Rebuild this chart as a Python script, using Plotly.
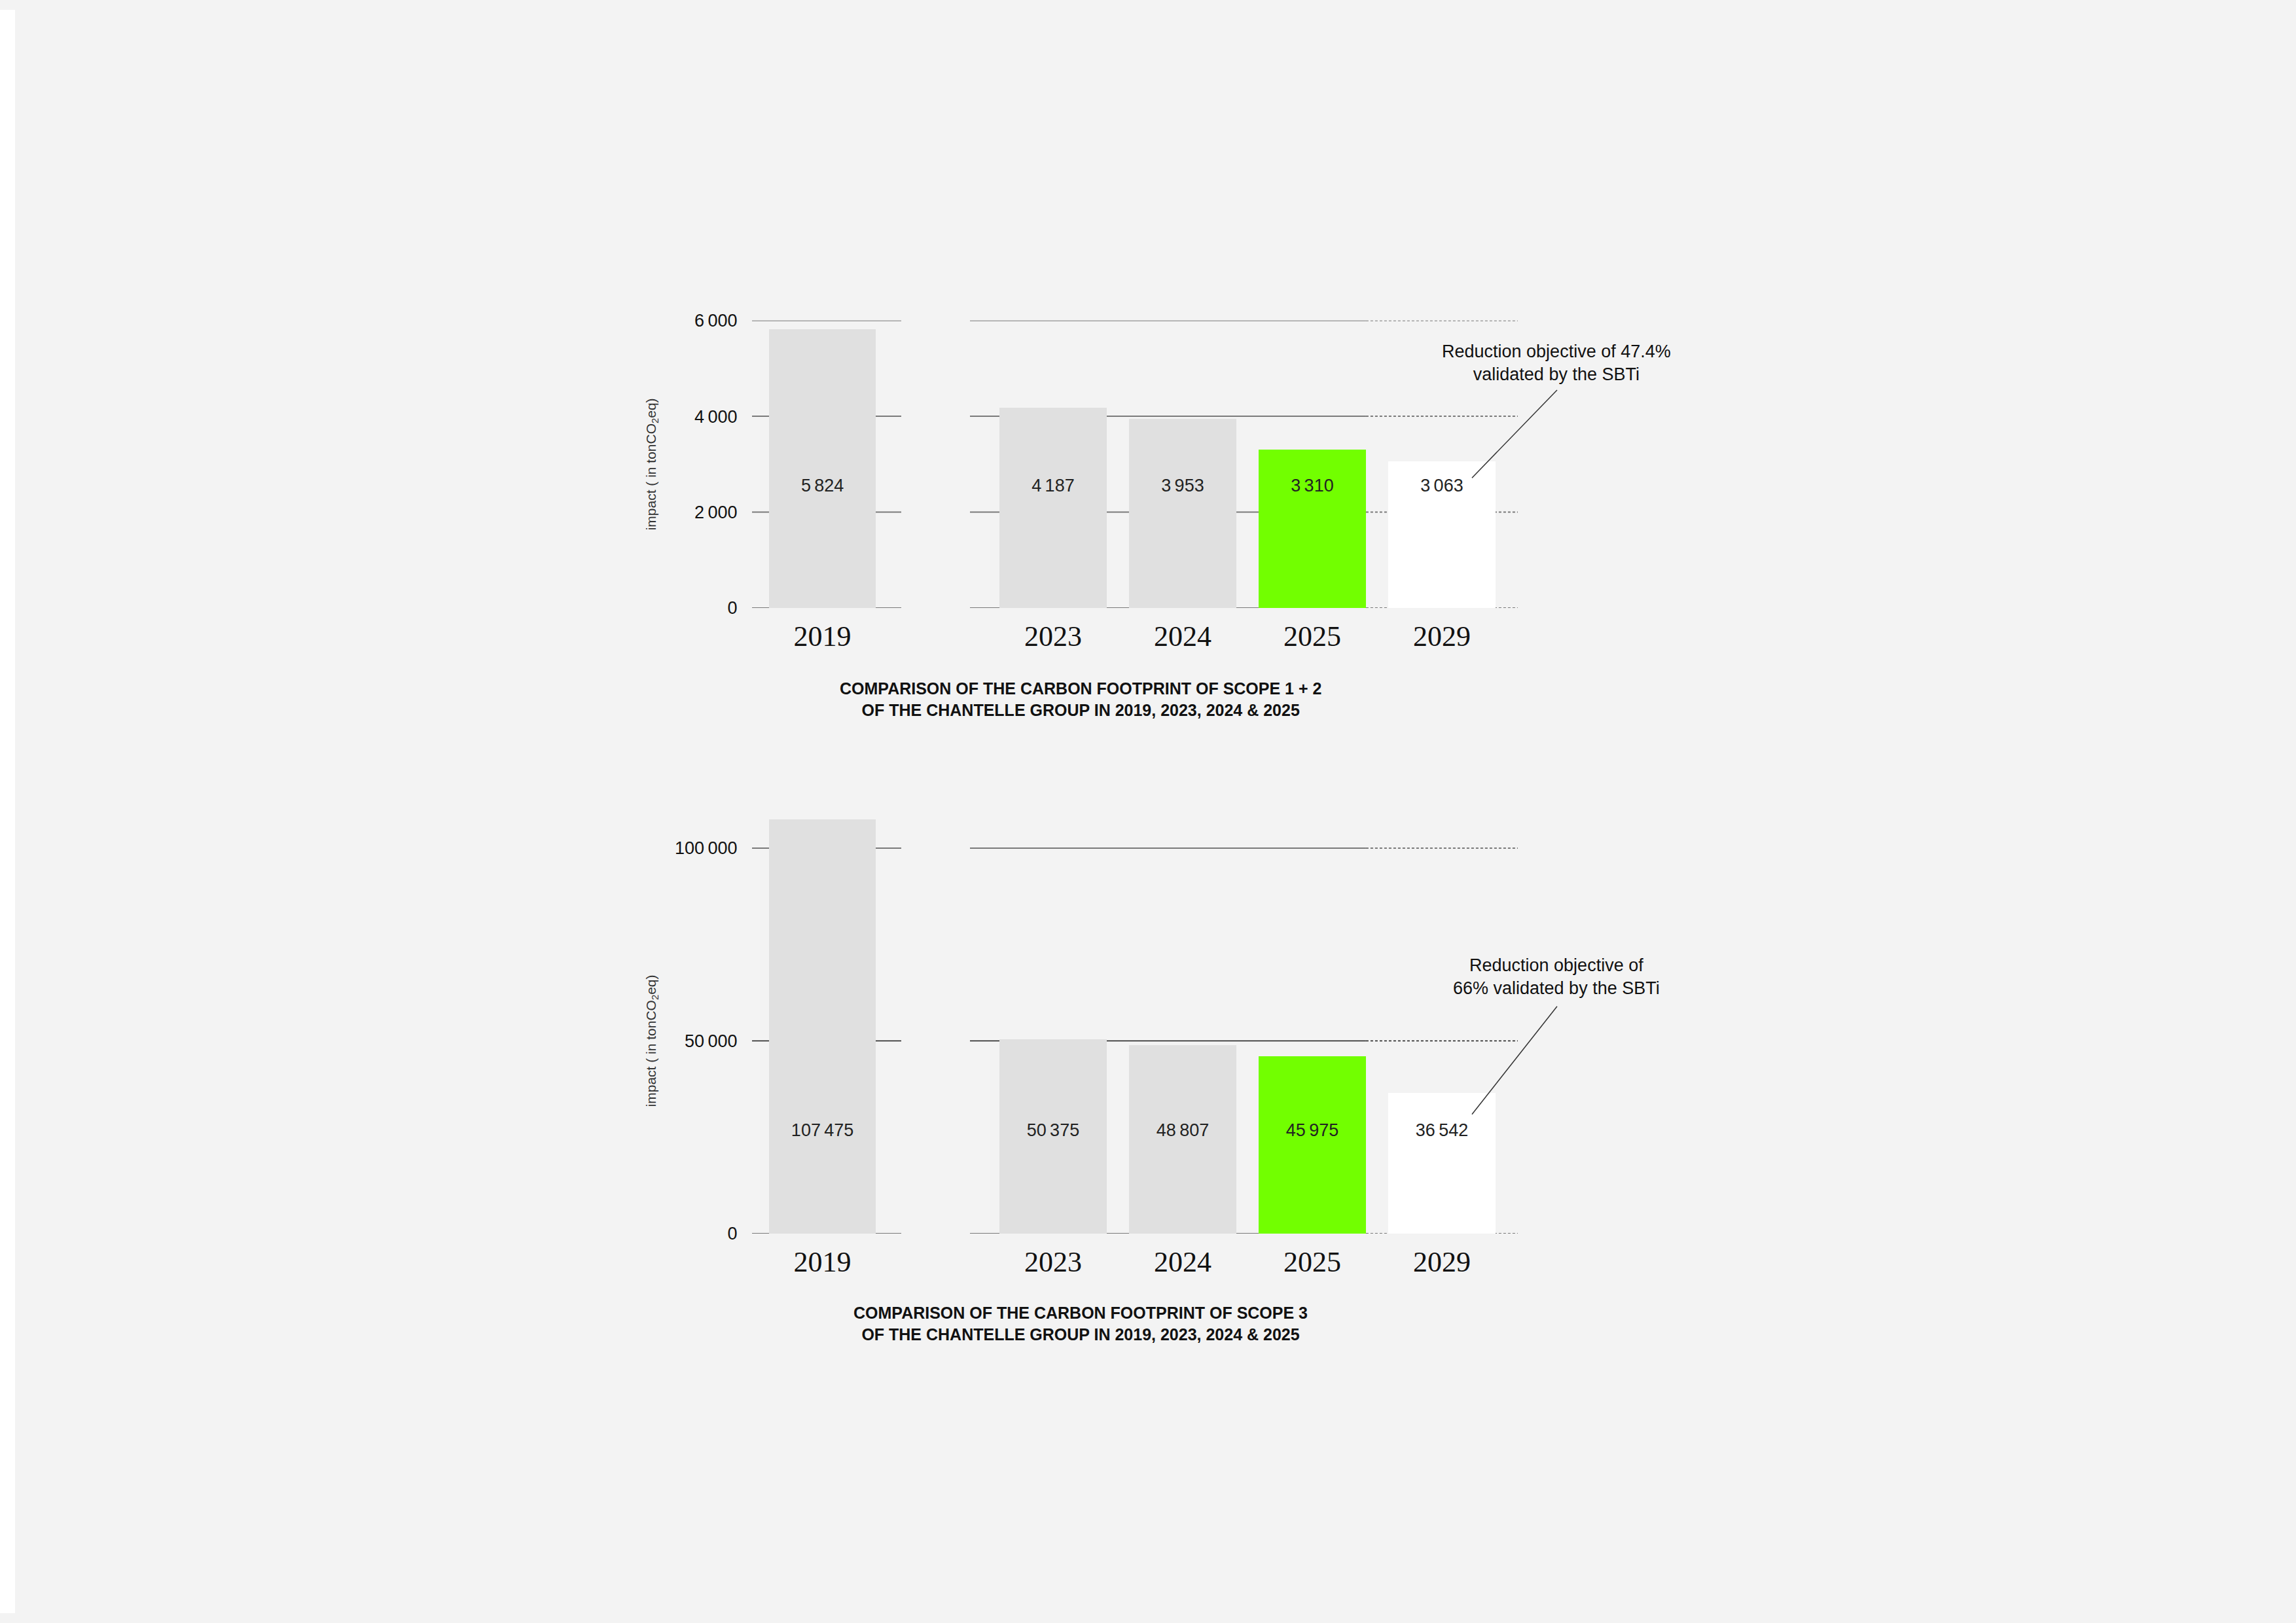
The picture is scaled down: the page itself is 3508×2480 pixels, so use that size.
import plotly.graph_objects as go

W, H = 3508, 2480

# ---- data -------------------------------------------------------------
years_base = ["2019"]
years_recent = ["2023", "2024", "2025", "2029"]

scope12_base = [5824]
scope12_recent = [4187, 3953, 3310, 3063]
scope3_base = [107475]
scope3_recent = [50375, 48807, 45975, 36542]

scope12_ticks = [0, 2000, 4000, 6000]
scope3_ticks = [0, 50000, 100000]

base_color = "#e0e0e0"
recent_colors = ["#e0e0e0", "#e0e0e0", "#72ff00", "#ffffff"]

scope12_title = ("COMPARISON OF THE CARBON FOOTPRINT OF SCOPE 1 + 2<br>"
                 "OF THE CHANTELLE GROUP IN 2019, 2023, 2024 & 2025")
scope3_title = ("COMPARISON OF THE CARBON FOOTPRINT OF SCOPE 3<br>"
                "OF THE CHANTELLE GROUP IN 2019, 2023, 2024 & 2025")
scope12_note = "Reduction objective of 47.4%<br>validated by the SBTi"
scope3_note = "Reduction objective of<br>66% validated by the SBTi"
y_title = "impact ( in tonCO<sub>2</sub>eq)"

SANS = "Liberation Sans, Arial, sans-serif"
SERIF = "Liberation Serif, Times New Roman, serif"
BG = "#f3f3f3"
GRID = "#7a7a7a"
DARK = "#1a1a1a"

# vertical calibration: the capture comes out slightly taller than the figure
Y_SCALE, Y_OFF = 1.0129, 14.5


def px_x(p):
    return p / W


def px_y(p):
    return 1 - (p * Y_SCALE - Y_OFF) / H


def fmt(v):
    return f"{v:,}".replace(",", "\u2009")


# ---- geometry -----------------------------------------------------------
left_dom = [px_x(1149), px_x(1377)]
right_dom = [px_x(1482), px_x(2319)]
left_range = [-0.472, 0.528]
right_range = [-0.641, 3.586]
left_width = 0.716
right_width = 0.828
split_idx = years_recent.index("2025")
split_frac = (split_idx + right_width / 2 - right_range[0]) / (right_range[1] - right_range[0])

charts = [
    dict(base=scope12_base, recent=scope12_recent, ticks=scope12_ticks,
         ydom=[px_y(927.7), px_y(488.7)], yrange=[0, 6000], label_y=2520,
         dark=None, title=scope12_title, title_y=1067,
         note=scope12_note, note_y=553, leader=((2249, 729), (2379, 595))),
    dict(base=scope3_base, recent=scope3_recent, ticks=scope3_ticks,
         ydom=[px_y(1883), px_y(1235.6)], yrange=[0, 110000], label_y=26500,
         dark=50000, title=scope3_title, title_y=2021,
         note=scope3_note, note_y=1491, leader=((2249, 1701), (2379, 1536))),
]

fig = go.Figure()
layout = {}
shapes = []
annotations = []

for i, c in enumerate(charts):
    for j, (cats, vals, colors, dom, rng, width) in enumerate([
        (years_base, c["base"], [base_color], left_dom, left_range, left_width),
        (years_recent, c["recent"], recent_colors, right_dom, right_range, right_width),
    ]):
        n = i * 2 + j + 1
        sx = "" if n == 1 else str(n)
        fig.add_trace(go.Bar(
            x=cats, y=vals, width=width, marker=dict(color=colors, line=dict(width=0)),
            xaxis="x" + sx, yaxis="y" + sx, showlegend=False, hoverinfo="x+y",
        ))
        fig.add_trace(go.Scatter(
            x=cats, y=[c["label_y"]] * len(cats), mode="text",
            text=[fmt(v) for v in vals],
            textfont=dict(family=SANS, size=27, color="#222222"),
            xaxis="x" + sx, yaxis="y" + sx, showlegend=False, hoverinfo="skip",
        ))
        layout["xaxis" + sx] = dict(
            domain=dom, anchor="y" + sx, type="category", range=rng,
            showgrid=False, zeroline=False, showline=False,
            ticks="outside", ticklen=4, tickcolor="rgba(0,0,0,0)",
            tickfont=dict(family=SERIF, size=44, color="#111111"),
            fixedrange=True,
        )
        layout["yaxis" + sx] = dict(
            domain=c["ydom"], anchor="x" + sx, range=c["yrange"],
            showgrid=False, zeroline=False, showline=False,
            tickvals=c["ticks"], ticktext=[fmt(t) for t in c["ticks"]],
            showticklabels=(j == 0),
            ticks="outside" if j == 0 else "", ticklen=16, tickcolor="rgba(0,0,0,0)",
            tickfont=dict(family=SANS, size=27, color="#111111"),
            fixedrange=True,
        )
        # gridlines (solid up to 2025, dotted for the 2029 target)
        for t in c["ticks"]:
            is_dark = t == c["dark"]
            col = DARK if is_dark else GRID
            lw = 1.5 if is_dark else 2
            segs = [(0, 1, "solid")] if j == 0 else [(0, split_frac, "solid"), (split_frac, 1, "4px,3px")]
            for x0, x1, dash in segs:
                shapes.append(dict(
                    type="line", xref=f"x{sx} domain", yref="y" + sx,
                    x0=x0, x1=x1, y0=t, y1=t, layer="below",
                    line=dict(color=col, width=lw, dash=dash),
                ))

    # y title centred on the tick span
    d0, d1 = c["ydom"]
    r0, r1 = c["yrange"]
    mid = (c["ticks"][0] + c["ticks"][-1]) / 2
    annotations.append(dict(
        text=y_title, textangle=-90, xref="paper", yref="paper",
        x=px_x(996), y=d0 + (mid - r0) / (r1 - r0) * (d1 - d0),
        xanchor="center", yanchor="middle", showarrow=False,
        font=dict(family=SANS, size=21, color="#333333"),
    ))
    annotations.append(dict(
        text="<b>" + c["title"].replace("<br>", "</b><br><b>") + "</b>",
        xref="paper", yref="paper", x=px_x(1651), y=px_y(c["title_y"]),
        xanchor="center", yanchor="middle", showarrow=False,
        font=dict(family=SANS, size=25, color="#111111"),
    ))
    annotations.append(dict(
        text=c["note"], xref="paper", yref="paper", x=px_x(2378), y=px_y(c["note_y"]),
        xanchor="center", yanchor="middle", showarrow=False,
        font=dict(family=SANS, size=27, color="#111111"),
    ))
    (lx0, ly0), (lx1, ly1) = c["leader"]
    shapes.append(dict(
        type="line", xref="paper", yref="paper",
        x0=px_x(lx0), y0=px_y(ly0), x1=px_x(lx1), y1=px_y(ly1),
        line=dict(color="#333333", width=1.5),
    ))

# white page edge on the left
shapes.append(dict(type="rect", xref="paper", yref="paper", x0=0, x1=px_x(23), y0=0, y1=1,
                   fillcolor="#ffffff", line=dict(width=0), layer="below"))

fig.update_layout(
    **layout,
    shapes=shapes,
    annotations=annotations,
    width=W, height=H,
    margin=dict(l=0, r=0, t=0, b=0),
    paper_bgcolor=BG,
    plot_bgcolor="rgba(0,0,0,0)",
    bargap=0,
    showlegend=False,
)

page = f"document.body.style.margin='0';document.body.style.background='{BG}';"
fig.write_html("out.html", config={"displayModeBar": False}, post_script=page)
